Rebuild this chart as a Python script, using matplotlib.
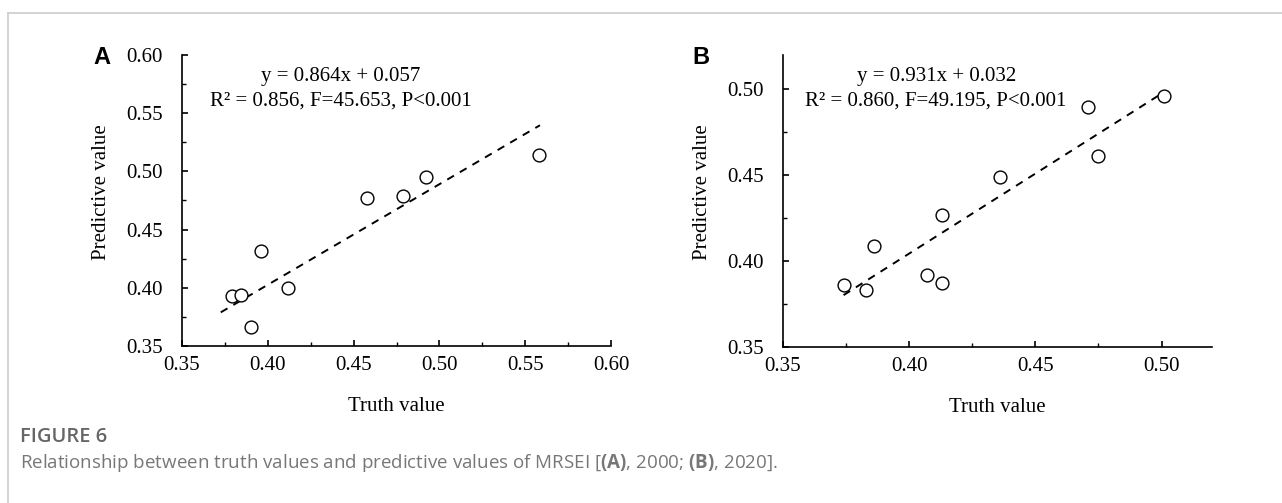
import matplotlib.pyplot as plt
from matplotlib.ticker import MultipleLocator, FormatStrFormatter

plt.rcParams['mathtext.fontset'] = 'custom'
plt.rcParams['mathtext.rm'] = 'Open Sans'
plt.rcParams['mathtext.bf'] = 'Open Sans:bold'

# Panel A (2000)
truth_a = [0.379, 0.3845, 0.390, 0.396, 0.412, 0.458, 0.479, 0.492, 0.558]
pred_a = [0.393, 0.394, 0.366, 0.432, 0.400, 0.477, 0.479, 0.495, 0.514]
fit_a = (0.864, 0.057)
fit_range_a = [0.3726, 0.5586]

# Panel B (2020)
truth_b = [0.374, 0.383, 0.386, 0.407, 0.413, 0.413, 0.436, 0.471, 0.475, 0.501]
pred_b = [0.386, 0.383, 0.409, 0.392, 0.387, 0.427, 0.449, 0.490, 0.461, 0.496]
fit_b = (0.931, 0.032)
fit_range_b = [0.374, 0.501]

W, H = 1282, 503
fig = plt.figure(figsize=(W / 100, H / 100), dpi=100)
serif = 'Liberation Serif'


def panel(rect, x, y, fit, fit_range, lims, eq, stats, txt_x):
    ax = fig.add_axes(rect)
    xlim, ylim = lims
    ax.set_xlim(*xlim)
    ax.set_ylim(*ylim)
    ax.scatter(x, y, s=85, facecolors='white', edgecolors='black',
               linewidths=1.0, zorder=3)
    fx = list(fit_range)
    fy = [fit[0] * v + fit[1] for v in fx]
    ax.plot(fx, fy, color='black', lw=1.4, ls=(0, (4, 3.5)), zorder=2)
    for s in ['top', 'right']:
        ax.spines[s].set_visible(False)
    for s in ['left', 'bottom']:
        ax.spines[s].set_linewidth(1.2)
    ax.xaxis.set_major_locator(MultipleLocator(0.05))
    ax.yaxis.set_major_locator(MultipleLocator(0.05))
    ax.xaxis.set_minor_locator(MultipleLocator(0.025))
    ax.yaxis.set_minor_locator(MultipleLocator(0.025))
    ax.xaxis.set_major_formatter(FormatStrFormatter('%.2f'))
    ax.yaxis.set_major_formatter(FormatStrFormatter('%.2f'))
    ax.tick_params(which='major', direction='in', length=4, width=1.2)
    ax.tick_params(which='minor', direction='in', length=3, width=1.0)
    ax.tick_params(axis='x', which='major', pad=7)
    ax.tick_params(axis='y', which='major', pad=14)
    for lab in ax.get_xticklabels() + ax.get_yticklabels():
        lab.set_family(serif)
        lab.set_fontsize(15)
    ax.set_xlabel('Truth value', family=serif, fontsize=15)
    ax.set_ylabel('Predictive value', family=serif, fontsize=15)
    ax.xaxis.set_label_coords(0.5, -0.175)
    ax.yaxis.set_label_coords(-0.166, 0.53)
    ax.text(txt_x, 0.925, eq, transform=ax.transAxes, ha='center', va='center',
            family=serif, fontsize=15)
    ax.text(txt_x, 0.842, stats, transform=ax.transAxes, ha='center', va='center',
            family=serif, fontsize=15)
    return ax


ax_a = panel([182 / W, 1 - 346 / H, 429 / W, 291 / H], truth_a, pred_a, fit_a,
             fit_range_a, ((0.35, 0.60), (0.35, 0.60)),
             'y = 0.864x + 0.057', 'R² = 0.856, F=45.653, P<0.001', 0.371)
ax_b = panel([783 / W, 1 - 347 / H, 429 / W, 292 / H], truth_b, pred_b, fit_b,
             fit_range_b, ((0.35, 0.52), (0.35, 0.52)),
             'y = 0.931x + 0.032', 'R² = 0.860, F=49.195, P<0.001', 0.357)

# panel letters
fig.text(93 / W, 1 - 64 / H, 'A', family='Liberation Sans', weight='bold',
         fontsize=17, ha='left', va='baseline')
fig.text(692 / W, 1 - 64 / H, 'B', family='Liberation Sans', weight='bold',
         fontsize=17, ha='left', va='baseline')

# card border
fig.add_artist(plt.Line2D([8 / W, 8 / W], [0, 1 - 13 / H], transform=fig.transFigure,
                          color='#cccccc', lw=1.2))
fig.add_artist(plt.Line2D([8 / W, 1], [1 - 13 / H, 1 - 13 / H], transform=fig.transFigure,
                          color='#cccccc', lw=1.2))

# caption
fig.text(20 / W, 1 - 437 / H, 'FIGURE 6', family='Open Sans', weight='semibold',
         fontsize=14.5, color='#666666', ha='left', va='center')
fig.text(20 / W, 1 - 463 / H,
         r'Relationship between truth values and predictive values of MRSEI '
         r'[$\mathbf{(A)}$, 2000; $\mathbf{(B)}$, 2020].',
         family='Open Sans', fontsize=13.5, color='#777777', ha='left', va='center')

fig.savefig('out.png', dpi=100)
